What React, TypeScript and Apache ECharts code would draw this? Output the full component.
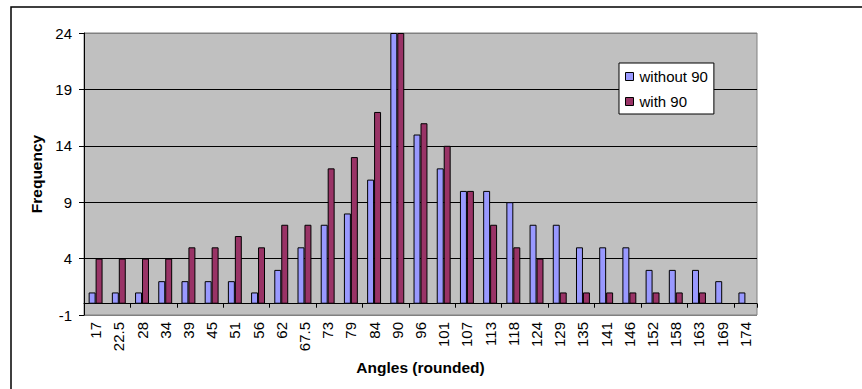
import React, { useEffect, useRef } from "react";
import * as echarts from "echarts";

// Angle bins (rounded) and frequency counts for the two samples
const angles: string[] = [
  "17", "22.5", "28", "34", "39", "45", "51", "56", "62", "67.5",
  "73", "79", "84", "90", "96", "101", "107", "113", "118", "124",
  "129", "135", "141", "146", "152", "158", "163", "169", "174",
];

const without90: number[] = [
  1, 1, 1, 2, 2, 2, 2, 1, 3, 5,
  7, 8, 11, 24, 15, 12, 10, 10, 9, 7,
  7, 5, 5, 5, 3, 3, 3, 2, 1,
];

const with90: (number | null)[] = [
  4, 4, 4, 4, 5, 5, 6, 5, 7, 7,
  12, 13, 17, 24, 16, 14, 10, 7, 5, 4,
  1, 1, 1, 1, 1, 1, 1, null, null,
];

const seriesNames: string[] = ["without 90", "with 90"];
const yMin = -1;
const yMax = 24;
const yStep = 5;

const FONT = 'Arial, "Liberation Sans", sans-serif';

export default function App() {
  const ref = useRef<HTMLDivElement>(null);

  useEffect(() => {
    if (!ref.current) return;
    const chart = echarts.init(ref.current, null, { renderer: "svg" });

    const barBorder = { borderColor: "#000000", borderWidth: 1 };

    chart.setOption({
      animation: false,
      backgroundColor: "#ffffff",
      textStyle: { fontFamily: FONT },
      grid: {
        left: 84,
        top: 33,
        right: 105,
        bottom: 74,
        containLabel: false,
        show: true,
        backgroundColor: "#C0C0C0",
        borderColor: "#808080",
        borderWidth: 1,
      },
      legend: {
        left: 619,
        top: 63,
        orient: "vertical",
        data: seriesNames,
        icon: "rect",
        itemWidth: 8,
        itemHeight: 8,
        itemGap: 10,
        padding: [6, 6, 5, 6],
        backgroundColor: "#ffffff",
        borderColor: "#000000",
        borderWidth: 1,
        borderRadius: 0,
        itemStyle: { borderColor: "#000000", borderWidth: 1 },
        textStyle: { fontSize: 15, color: "#000000", fontFamily: FONT, padding: [0, 0, 0, 1] },
      },
      xAxis: [
        {
          // labels and title along the bottom edge of the plot
          type: "category",
          data: angles,
          position: "bottom",
          axisLine: { show: false, onZero: false },
          axisTick: { show: false },
          splitLine: { show: false },
          axisLabel: {
            interval: 0,
            rotate: 90,
            margin: 7,
            fontSize: 15,
            color: "#000000",
            fontFamily: FONT,
          },
          name: "Angles (rounded)",
          nameLocation: "middle",
          nameGap: 42,
          nameTextStyle: {
            fontSize: 15.5,
            fontWeight: "bold",
            color: "#000000",
            fontFamily: FONT,
          },
        },
        {
          // baseline at zero with its tick marks
          type: "category",
          data: angles,
          position: "bottom",
          axisLine: { show: true, onZero: true, lineStyle: { color: "#000000", width: 1 } },
          axisTick: { show: true, length: 4, lineStyle: { color: "#000000" } },
          axisLabel: { show: false },
          splitLine: { show: false },
        },
      ],
      yAxis: {
        type: "value",
        min: yMin,
        max: yMax,
        interval: yStep,
        axisLine: { show: true, onZero: false, lineStyle: { color: "#000000", width: 1 } },
        axisTick: { show: true, length: 5, lineStyle: { color: "#000000" } },
        axisLabel: { fontSize: 15, color: "#000000", margin: 12, fontFamily: FONT },
        splitLine: {
          show: true,
          lineStyle: {
            color: ["#808080", "#000000", "#000000", "#000000", "#000000", "#808080"],
            width: 1,
          },
        },
        name: "Frequency",
        nameLocation: "middle",
        nameGap: 40,
        nameRotate: 90,
        nameTextStyle: {
          fontSize: 15.5,
          fontWeight: "bold",
          color: "#000000",
          fontFamily: FONT,
        },
      },
      series: [
        {
          name: seriesNames[0],
          type: "bar",
          xAxisIndex: 0,
          data: without90,
          barGap: "0%",
          barCategoryGap: "40%",
          itemStyle: { color: "#9999FF", ...barBorder },
        },
        {
          name: seriesNames[1],
          type: "bar",
          xAxisIndex: 0,
          data: with90,
          barGap: "0%",
          barCategoryGap: "40%",
          itemStyle: { color: "#993366", ...barBorder },
        },
      ],
      graphic: [
        {
          type: "rect",
          silent: true,
          shape: { x: 11, y: 7, width: 900, height: 500 },
          style: { fill: "none", stroke: "#000000", lineWidth: 1.5 },
          z: 100,
        },
      ],
    });

    return () => chart.dispose();
  }, []);

  return (
    <div
      ref={ref}
      style={{ position: "fixed", left: 0, top: 0, width: 862, height: 389 }}
    />
  );
}
